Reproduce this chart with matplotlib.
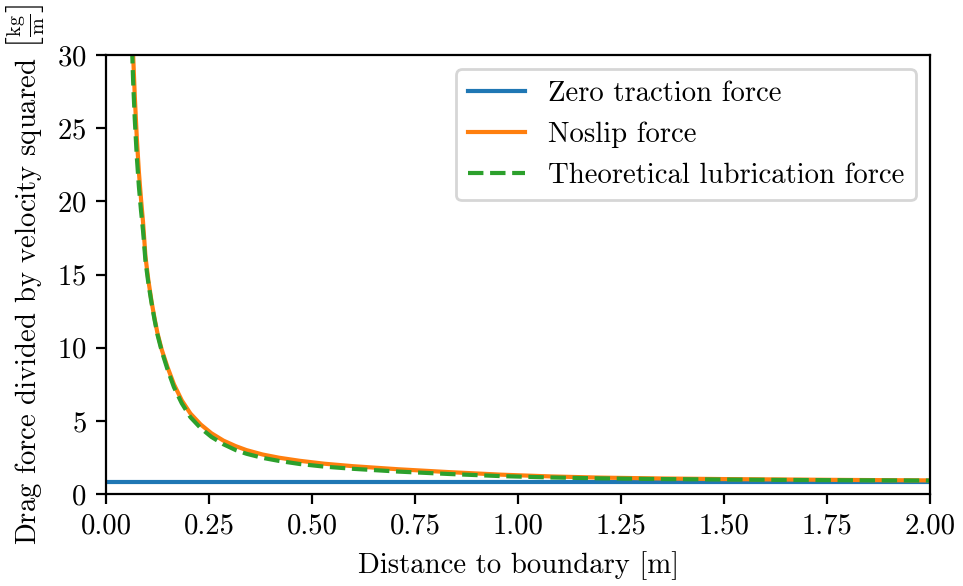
import matplotlib
matplotlib.use("Agg")
import matplotlib.pyplot as plt

# distance to boundary [m]
dist_zero = [0.0, 2.0]
zero_traction = [0.85, 0.85]

distance = [0.060, 0.063, 0.066, 0.070, 0.075, 0.080, 0.085, 0.090, 0.096, 0.103,
            0.111, 0.118, 0.125, 0.135, 0.149, 0.165, 0.184, 0.205, 0.23, 0.256,
            0.285, 0.315, 0.341, 0.38, 0.42, 0.47, 0.53, 0.60, 0.71, 0.83,
            0.96, 1.08, 1.20, 1.35, 1.50, 1.65, 1.80, 2.00]
noslip = [36, 33, 30, 27.2, 24.3, 22.0, 20.2, 18.6, 16.2, 14.6,
          13.1, 12.0, 11.0, 9.9, 8.7, 7.5, 6.4, 5.5, 4.75, 4.15,
          3.65, 3.27, 3.0, 2.7, 2.48, 2.27, 2.07, 1.9, 1.69, 1.5,
          1.32, 1.2, 1.12, 1.06, 1.02, 0.99, 0.96, 0.93]
lubrication = [33.5, 30.8, 28.2, 25.6, 23.0, 21.0, 19.4, 18.0, 15.9, 14.4,
               13.0, 11.9, 10.9, 9.8, 8.55, 7.3, 6.2, 5.25, 4.5, 3.9,
               3.4, 3.0, 2.75, 2.47, 2.26, 2.05, 1.87, 1.72, 1.53, 1.37,
               1.22, 1.13, 1.07, 1.02, 0.99, 0.96, 0.94, 0.92]

plt.rcParams['font.family'] = 'cmr10'
plt.rcParams['mathtext.fontset'] = 'cm'
plt.rcParams['axes.formatter.use_mathtext'] = True
plt.rcParams['font.size'] = 10.35

fig = plt.figure(figsize=(4.815, 2.93), dpi=200)
ax = fig.add_axes([0.110, 0.157, 0.856, 0.749])

ax.plot(dist_zero, zero_traction, color='#1f77b4', lw=1.5, label='Zero traction force')
ax.plot(distance, noslip, color='#ff7f0e', lw=1.5, label='Noslip force')
ax.plot(distance, lubrication, color='#2ca02c', lw=1.5, ls='--', label='Theoretical lubrication force')

ax.set_xlim(0, 2)
ax.set_ylim(0, 30)
ax.set_xticks([0, 0.25, 0.5, 0.75, 1.0, 1.25, 1.5, 1.75, 2.0])
ax.set_xticklabels(['0.00', '0.25', '0.50', '0.75', '1.00', '1.25', '1.50', '1.75', '2.00'])
ax.set_xlabel('Distance to boundary [m]')
ax.set_ylabel(r'Drag force divided by velocity squared $\left[\frac{\mathrm{kg}}{\mathrm{m}}\right]$')
ax.legend(loc='upper right')

fig.savefig('out.png', dpi=200)
